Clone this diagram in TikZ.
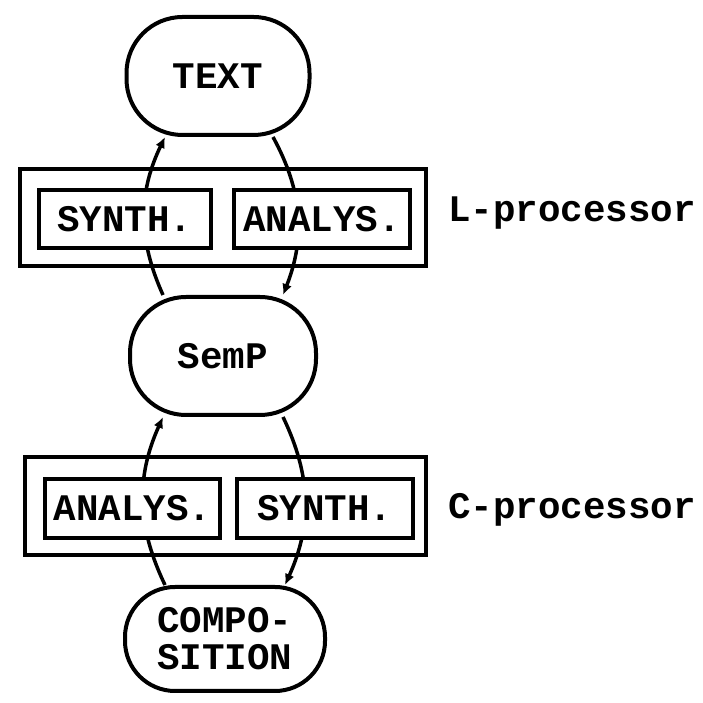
\documentclass[tikz,border=0pt]{standalone}
\usepackage{fontspec}
\setmonofont{Liberation Mono}
\usetikzlibrary{arrows.meta}
\tikzset{
  every node/.style={font=\ttfamily\bfseries\fontsize{37.5}{37}\selectfont},
  blob/.style={draw, line width=4pt, fill=white, rounded corners=56pt, align=center, inner sep=0pt},
  outerbox/.style={draw, line width=4pt, inner sep=0pt},
  innerbox/.style={draw, line width=4pt, fill=white, inner sep=0pt},
  conn/.style={line width=3.5pt, -{Latex[length=11pt,width=10pt]}},
  lbl/.style={anchor=west, inner sep=0pt}
}
\begin{document}
\begin{tikzpicture}[x=1pt,y=1pt]
\useasboundingbox (0,0) rectangle (702,703);
% containers
\node[outerbox, minimum width=406pt, minimum height=97pt] (Lbox) at (223,485.5) {};
\node[outerbox, minimum width=401pt, minimum height=98pt] (Cbox) at (225.5,197) {};
% state nodes
\node[blob, minimum width=183pt, minimum height=118pt] (text) at (218,627) {TEXT};
\node[blob, minimum width=186pt, minimum height=118pt] (semp) at (223,347) {SemP};
\node[blob, minimum width=200pt, minimum height=104pt, rounded corners=50pt] (comp) at (225,64) {COMPO-\\SITION};
% connectors
\draw[conn] ([xshift=-60pt]semp.north) to[bend left=25] ([xshift=-53pt]text.south);
\draw[conn] ([xshift=55pt]text.south) to[bend left=25] ([xshift=60pt]semp.north);
\draw[conn] ([xshift=-60pt]comp.north) to[bend left=25] ([xshift=-60pt]semp.south);
\draw[conn] ([xshift=60pt]semp.south) to[bend left=25] ([xshift=60pt]comp.north);
% processors
\node[innerbox, minimum width=172pt, minimum height=58pt] (Lsynth) at (125,484) {SYNTH.};
\node[innerbox, minimum width=176pt, minimum height=58pt] (Lanalys) at (322,484) {ANALYS.};
\node[innerbox, minimum width=175pt, minimum height=59pt] (Canalys) at (132.5,194.5) {ANALYS.};
\node[innerbox, minimum width=176pt, minimum height=59pt] (Csynth) at (325,194.5) {SYNTH.};
% labels
\node[lbl] (Llabel) at (448,490) {L-processor};
\node[lbl] (Clabel) at (448,193) {C-processor};
\end{tikzpicture}
\end{document}
